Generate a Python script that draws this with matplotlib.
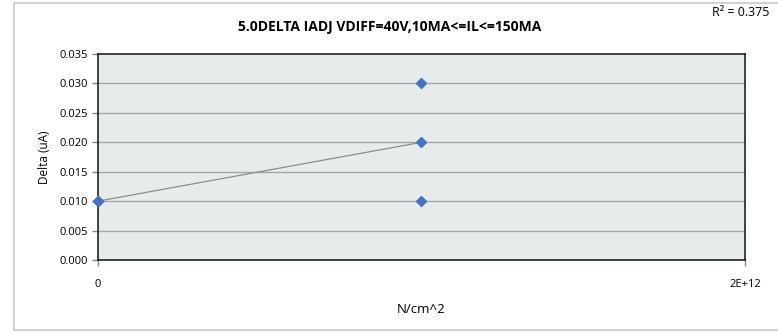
import numpy as np
import matplotlib.pyplot as plt
from matplotlib.patches import Rectangle

# measurements: fluence (N/cm^2) vs delta IADJ (uA)
fluence = [0, 0, 1e12, 1e12, 1e12]
delta = [0.010, 0.010, 0.030, 0.020, 0.010]

x_ticks = [0, 2e12]
x_tick_labels = ['0', '2E+12']
y_ticks = [0.000, 0.005, 0.010, 0.015, 0.020, 0.025, 0.030, 0.035]

plt.rcParams['font.family'] = ['Open Sans', 'DejaVu Sans']

fig = plt.figure(figsize=(7.78, 3.33), dpi=100)
ax = fig.add_axes([98 / 778, 1 - 260 / 333, (745 - 98) / 778, (260 - 54) / 333])

# outer chart frame
fig.patches.append(Rectangle((14 / 778, 3 / 333), 1.2, 1 - 6 / 333, transform=fig.transFigure,
                             fill=False, edgecolor='#c8c8c8', linewidth=1.2))

ax.set_facecolor('#e6ecec')
for y in y_ticks[1:-1]:
    ax.axhline(y, color='#a6a6a6', linewidth=1, zorder=1)

# linear trendline over the data range
xs = np.array(fluence)
ys = np.array(delta)
slope, intercept = np.polyfit(xs, ys, 1)
fit = slope * xs + intercept
r2 = 1 - np.sum((ys - fit) ** 2) / np.sum((ys - ys.mean()) ** 2)
xl = np.array([xs.min(), xs.max()])
ax.plot(xl, slope * xl + intercept, color='#8c8c8c', linewidth=0.9, zorder=2)

ax.scatter(fluence, delta, marker='D', s=26, color='#4472c4', zorder=3, clip_on=False)

ax.set_xlim(0, 2e12)
ax.set_ylim(0, 0.035)
ax.set_xticks(x_ticks)
ax.set_xticklabels(x_tick_labels)
ax.set_yticks(y_ticks)
ax.set_yticklabels([f'{v:.3f}' for v in y_ticks])
ax.tick_params(axis='both', labelsize=8, length=4, width=1, color='#888888', direction='out')
ax.tick_params(axis='x', pad=10)
for s in ax.spines.values():
    s.set_color('#222222')
    s.set_linewidth(1.2)

ax.set_xlabel('N/cm^2', fontsize=9.5, labelpad=9)
ax.set_ylabel('Delta (uA)', fontsize=8.5, labelpad=6)
fig.text(390 / 778, 1 - 27 / 333, '5.0DELTA IADJ VDIFF=40V,10MA<=IL<=150MA',
         ha='center', va='center', fontsize=10, fontweight='bold')
fig.text(741 / 778, 1 - 12 / 333, f'R² = {r2:.3f}', ha='center', va='center', fontsize=9)

fig.savefig('out.png', dpi=100)
